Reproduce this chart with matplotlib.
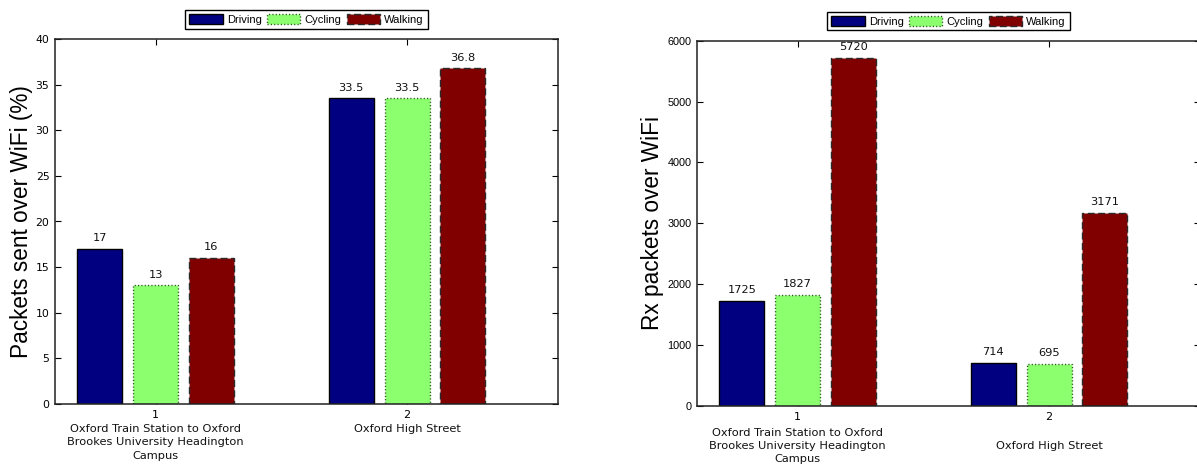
import matplotlib
matplotlib.use("Agg")
import matplotlib.pyplot as plt
from matplotlib.patches import Patch
import matplotlib.transforms as mtrans
import numpy as np

series = ["Driving", "Cycling", "Walking"]
groups = [1, 2]
group_names_left = ["Oxford Train Station to Oxford\nBrookes University Headington\nCampus", "Oxford High Street"]
group_names_right = ["Oxford Train Station to Oxford\nBrookes University Headington\nCampus", "Oxford High Street"]

sent_pct = {"Driving": [17, 33.5], "Cycling": [13, 33.5], "Walking": [16, 36.8]}
sent_labels = {"Driving": ["17", "33.5"], "Cycling": ["13", "33.5"], "Walking": ["16", "36.8"]}
rx_packets = {"Driving": [1725, 714], "Cycling": [1827, 695], "Walking": [5720, 3171]}
rx_labels = {"Driving": ["1725", "714"], "Cycling": ["1827", "695"], "Walking": ["5720", "3171"]}

colors = {"Driving": "#000080", "Cycling": "#8cff6e", "Walking": "#800000"}
edge_styles = {"Driving": "solid", "Cycling": (0, (0.8, 1.6)), "Walking": (0, (5, 2.5))}
edge_colors = {"Driving": "black", "Cycling": "#2a4a20", "Walking": "#2a2a2a"}

fig = plt.figure(figsize=(11.97, 4.65), dpi=100)
ax1 = fig.add_axes([55/1197, 61/465, 503/1197, 365/465])
ax2 = fig.add_axes([697/1197, 59/465, 503/1197, 365.3/465])

offsets = [-0.222, 0.0, 0.222]
bw = 0.179
verd = "DejaVu Sans"
ari = "Liberation Sans"


def draw(ax, data, labels, ymax, ystep, ylabel, ytickfont, labelpad):
    x = np.array(groups, dtype=float)
    for s, off in zip(series, offsets):
        bars = ax.bar(x + off, data[s], bw, color=colors[s], edgecolor=edge_colors[s],
                      linewidth=1.0, linestyle=edge_styles[s], capstyle="butt",
                      joinstyle="miter", zorder=2)
        for b, lab in zip(bars, labels[s]):
            ax.annotate(lab, (b.get_x() + b.get_width() / 2, b.get_height()),
                        xytext=(0, 4), textcoords="offset points", ha="center", va="bottom",
                        fontsize=8.2, family=verd, color="#111111")
    ax.set_xlim(0.6, 2.6)
    ax.set_ylim(0, ymax)
    ax.set_yticks(np.arange(0, ymax + 1e-9, ystep))
    ax.set_xticks(groups)
    ax.set_xticklabels([str(g) for g in groups], fontsize=8, family=verd)
    for lab in ax.get_yticklabels():
        lab.set_fontsize(7.8)
        lab.set_family(ytickfont)
    ax.tick_params(direction="in", top=True, right=True, length=4, width=0.8, pad=4)
    ax.tick_params(axis="x", pad=4)
    for sp in ax.spines.values():
        sp.set_linewidth(1.1)
        sp.set_color("#222222")
    ax.set_ylabel(ylabel, fontsize=16.3, family=ari, labelpad=labelpad)
    handles = [Patch(facecolor=colors[s], edgecolor=edge_colors[s], linestyle=edge_styles[s],
                     linewidth=1.0, label=s) for s in series]
    leg = ax.legend(handles=handles, loc="lower center", bbox_to_anchor=(0.5, 1.028), ncol=3,
                    frameon=True, fancybox=False, edgecolor="black", framealpha=1,
                    prop={"family": ari, "size": 8}, handlelength=3.0, handleheight=1.0,
                    handletextpad=0.4, columnspacing=0.45, borderpad=0.35, borderaxespad=0.0)
    leg.get_frame().set_linewidth(1.0)


draw(ax1, sent_pct, sent_labels, 40, 5, "Packets sent over WiFi (%)", verd, 2)
draw(ax2, rx_packets, rx_labels, 6000, 1000, "Rx packets over WiFi", ari, 2.5)

tr1 = mtrans.blended_transform_factory(ax1.transData, fig.transFigure)
for g, name in zip(groups, group_names_left):
    ax1.text(g, 1 - 424/465, name, transform=tr1, ha="center", va="top", fontsize=8.2,
             family=verd, multialignment="center", linespacing=1.42, color="#111111")
tr2 = mtrans.blended_transform_factory(ax2.transData, fig.transFigure)
for g, name in zip(groups, group_names_right):
    ax2.text(g, 1 - 446/465, name, transform=tr2, ha="center", va="center", fontsize=8.2,
             family=verd, multialignment="center", linespacing=1.42, color="#111111")

fig.savefig("out.png", dpi=100)
